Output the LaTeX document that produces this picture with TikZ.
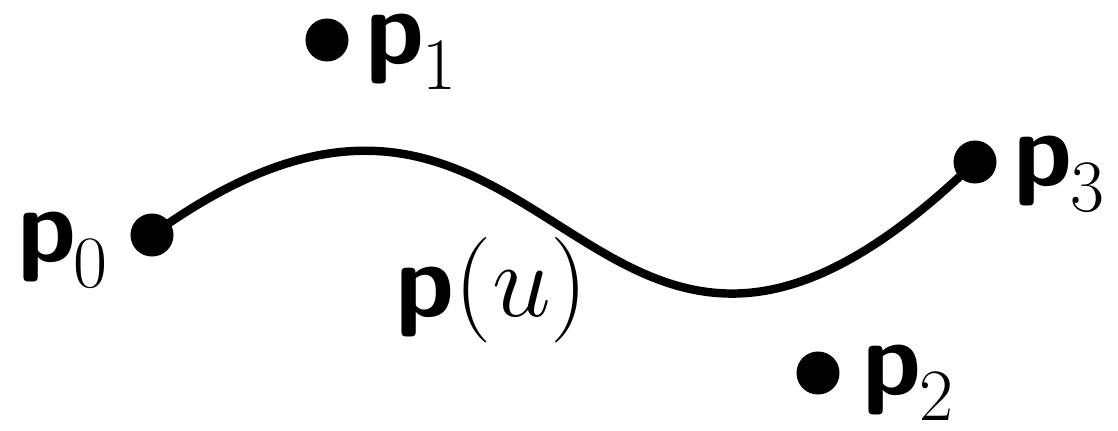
\RequirePackage{fix-cm}
\documentclass[tikz,border=0pt]{standalone}
\usepackage{amsmath}
\usepackage{fontspec}
\usetikzlibrary{positioning}
\newcommand{\bp}{\textsf{\textbf{p}}}
\newcommand{\cpt}[1]{\bp\mkern-0.5mu_{\lower0.1cm\hbox{$\scriptstyle #1$}}}

\begin{document}
\begin{tikzpicture}[
    x=0.01cm, y=-0.01cm,
    font=\fontsize{30}{36}\selectfont,
    % Style definitions
    ctrldot/.style={circle, fill=black, inner sep=0pt, minimum size=0.43cm},
    ptlabel/.style={inner sep=0pt},
    curveline/.style={line width=2.4pt}
]
    \useasboundingbox (0,0) rectangle (1118,430);

    % === CONTROL POINTS ===
    \node (p0) [ctrldot] at (152,235) {};
    \node (p1) [ctrldot] at (327,40) {};
    \node (p2) [ctrldot] at (818,373) {};
    \node (p3) [ctrldot] at (975,162) {};

    % === CURVE p(u) ===
    \coordinate (c1) at (560,-60);
    \coordinate (c2) at (580,545);
    \draw [curveline] (p0.center) .. controls (c1) and (c2) .. (p3.center);

    % === LABELS ===
    \node (p0_lbl) [ptlabel, left=0.2cm of p0, yshift=-0.15cm] {$\cpt{0}$};
    \node (p1_lbl) [ptlabel, right=0.16cm of p1, yshift=-0.12cm] {$\cpt{1}$};
    \node (p2_lbl) [ptlabel, right=0.22cm of p2, yshift=-0.1cm] {$\cpt{2}$};
    \node (p3_lbl) [ptlabel, right=0.16cm of p3, yshift=-0.12cm] {$\cpt{3}$};
    \node (pu_lbl) [ptlabel] at (492,290) {$\bp(u)$};

\end{tikzpicture}
\end{document}
